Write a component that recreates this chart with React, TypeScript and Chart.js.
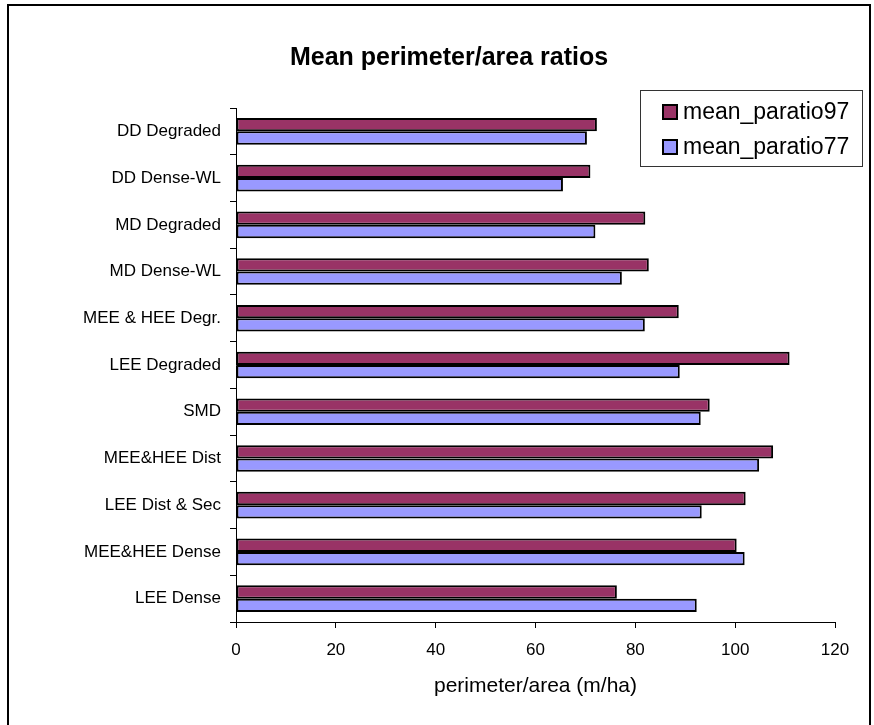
import React, { useEffect, useRef } from "react";
import { Chart, registerables } from "chart.js";

Chart.register(...registerables);

const categories = [
  "DD Degraded",
  "DD Dense-WL",
  "MD Degraded",
  "MD Dense-WL",
  "MEE & HEE Degr.",
  "LEE Degraded",
  "SMD",
  "MEE&HEE Dist",
  "LEE Dist & Sec",
  "MEE&HEE Dense",
  "LEE Dense",
];

const paratio97 = [72.3, 71.0, 82.0, 82.7, 88.7, 110.9, 94.9, 107.6, 102.1, 100.3, 76.3];
const paratio77 = [70.3, 65.5, 72.0, 77.3, 81.9, 88.9, 93.1, 104.8, 93.3, 101.9, 92.3];

const seriesLabels = ["mean_paratio97", "mean_paratio77"];
const seriesColors = ["#993366", "#9999FF"];

const chartTitle = "Mean perimeter/area ratios";
const xAxisTitle = "perimeter/area (m/ha)";
const xMin = 0;
const xMax = 120;
const xStep = 20;

const FONT = '"Liberation Sans", Arial, sans-serif';

const legendPlugin = {
  id: "boxLegend",
  afterDraw(chart: any) {
    const ctx = chart.ctx as CanvasRenderingContext2D;
    ctx.save();
    const bx = 640, by = 90, bw = 222, bh = 76;
    ctx.strokeStyle = "#333";
    ctx.lineWidth = 1;
    ctx.strokeRect(bx + 0.5, by + 0.5, bw, bh);
    ctx.font = `23px ${FONT}`;
    ctx.textBaseline = "middle";
    ctx.textAlign = "left";
    chart.data.datasets.forEach((ds: any, i: number) => {
      const cy = by + 22 + i * 35;
      ctx.fillStyle = ds.backgroundColor;
      ctx.fillRect(663, cy - 7, 14, 14);
      ctx.strokeStyle = "#000";
      ctx.lineWidth = 2;
      ctx.strokeRect(663, cy - 7, 14, 14);
      ctx.fillStyle = "#000";
      ctx.fillText(ds.label, 683, cy + 1);
    });
    ctx.restore();
  },
};

export default function App() {
  const ref = useRef<HTMLCanvasElement | null>(null);

  useEffect(() => {
    if (!ref.current) return;
    const chart = new Chart(ref.current, {
      type: "bar",
      data: {
        labels: categories,
        datasets: [
          {
            label: seriesLabels[0],
            data: paratio97,
            backgroundColor: seriesColors[0],
            borderColor: "#000",
            borderWidth: 2,
            borderSkipped: false,
            categoryPercentage: 0.57,
            barPercentage: 1.0,
          },
          {
            label: seriesLabels[1],
            data: paratio77,
            backgroundColor: seriesColors[1],
            borderColor: "#000",
            borderWidth: 2,
            borderSkipped: false,
            categoryPercentage: 0.57,
            barPercentage: 1.0,
          },
        ],
      },
      options: {
        indexAxis: "y",
        responsive: false,
        animation: false,
        layout: { padding: { left: 63, right: 39, top: 0, bottom: 0 } },
        plugins: {
          legend: { display: false },
          tooltip: { enabled: false },
          title: {
            display: true,
            text: chartTitle,
            color: "#000",
            font: { family: FONT, size: 25, weight: "bold" },
            padding: { top: 43, bottom: 35 },
          },
        },
        scales: {
          x: {
            type: "linear",
            min: xMin,
            max: xMax,
            ticks: {
              stepSize: xStep,
              color: "#000",
              font: { family: FONT, size: 17 },
              padding: 12,
            },
            grid: {
              display: true,
              drawOnChartArea: false,
              drawTicks: true,
              tickLength: 6,
              color: "#000",
            },
            border: { display: true, color: "#000", width: 1 },
            title: {
              display: true,
              text: xAxisTitle,
              color: "#000",
              font: { family: FONT, size: 21 },
              padding: { top: 0, bottom: 26.4 },
            },
            afterFit: (s: any) => {
              s.height = 103;
            },
          },
          y: {
            type: "category",
            ticks: {
              color: "#000",
              font: { family: FONT, size: 17 },
              padding: 9,
            },
            grid: {
              display: true,
              offset: true,
              drawOnChartArea: false,
              drawTicks: true,
              tickLength: 6,
              color: "#000",
            },
            border: { display: true, color: "#000", width: 1 },
            afterFit: (s: any) => {
              s.width = 173;
            },
          },
        },
      },
      plugins: [legendPlugin],
    });
    return () => chart.destroy();
  }, []);

  return (
    <div
      style={{
        position: "fixed",
        left: 0,
        top: 0,
        width: 874,
        height: 725,
        overflow: "hidden",
        background: "#fff",
      }}
    >
      <canvas
        ref={ref}
        width={874}
        height={725}
        style={{ position: "absolute", left: 0, top: 0, width: 874, height: 725 }}
      />
      <div
        style={{
          position: "absolute",
          left: 7,
          top: 4,
          width: 860,
          height: 800,
          border: "2px solid #000",
          boxSizing: "content-box",
          pointerEvents: "none",
        }}
      />
    </div>
  );
}
